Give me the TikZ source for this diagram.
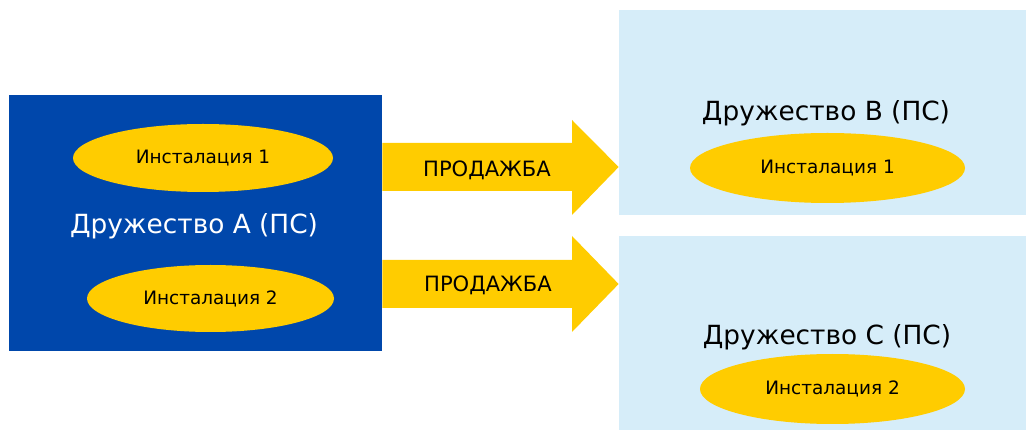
\documentclass[tikz,border=0pt]{standalone}
\usepackage{fontspec}
\setmainfont{DejaVu Sans}
\usetikzlibrary{shapes.geometric}
\definecolor{darkblue}{HTML}{0047AB}
\definecolor{paleblue}{HTML}{D6EDF9}
\definecolor{gold}{HTML}{FFCC00}
\tikzset{
  install/.style={ellipse, fill=gold, inner sep=0pt, font=\fontsize{10.5}{12}\selectfont},
  company/.style={rectangle, inner sep=0pt},
  firm/.style={font=\fontsize{15}{18}\selectfont},
  sale/.style={fill=gold},
}
\begin{document}
\begin{tikzpicture}
\useasboundingbox (0,0) rectangle (20.52,8.6);
% Company A
\node[company, fill=darkblue, minimum width=7.46cm, minimum height=5.12cm] (boxA) at (3.91,4.14) {};
\node[install, minimum width=5.2cm, minimum height=1.36cm] (instA1) at (4.06,5.44) {Инсталация 1};
\node[firm, text=white] (nameA) at (3.88,4.08) {Дружество A (ПС)};
\node[install, minimum width=4.94cm, minimum height=1.34cm] (instA2) at (4.21,2.63) {Инсталация 2};

% Company B
\node[company, fill=paleblue, minimum width=8.14cm, minimum height=4.1cm] (boxB) at (16.45,6.35) {};
\node[firm] (nameB) at (16.52,6.34) {Дружество B (ПС)};
\node[install, minimum width=5.5cm, minimum height=1.4cm] (instB1) at (16.55,5.24) {Инсталация 1};

% Company C
\node[company, fill=paleblue, minimum width=8.14cm, minimum height=3.88cm] (boxC) at (16.45,1.94) {};
\node[firm] (nameC) at (16.54,1.86) {Дружество C (ПС)};
\node[install, minimum width=5.3cm, minimum height=1.4cm] (instC2) at (16.65,0.82) {Инсталация 2};

% Sale arrows
\fill[sale] (boxA.east |- 0,4.78) -- (11.44,4.78) -- (11.44,4.3) -- (boxB.west |- 0,5.26)
  -- (11.44,6.2) -- (11.44,5.74) -- (boxA.east |- 0,5.74) -- cycle;
\fill[sale] (boxA.east |- 0,2.44) -- (11.44,2.44) -- (11.44,1.96) -- (boxC.west |- 0,2.92)
  -- (11.44,3.88) -- (11.44,3.4) -- (boxA.east |- 0,3.4) -- cycle;
\node[font=\fontsize{12}{14}\selectfont] (saleB) at (9.74,5.2) {ПРОДАЖБА};
\node[font=\fontsize{12}{14}\selectfont] (saleC) at (9.76,2.9) {ПРОДАЖБА};
\end{tikzpicture}
\end{document}
